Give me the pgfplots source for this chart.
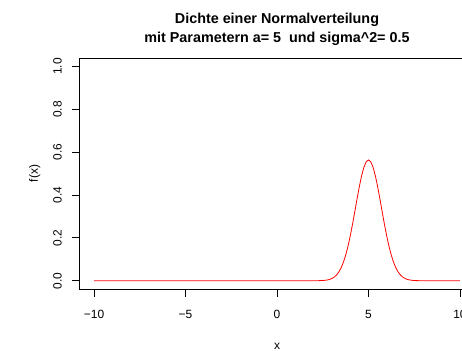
\documentclass[border=0pt]{standalone}
\usepackage{pgfplots}
\pgfplotsset{compat=1.18}
\usepackage{fontspec}
\setmainfont{Liberation Sans}
\begin{document}
\begin{tikzpicture}
\begin{axis}[
  scale only axis,
  width=395.2bp, height=231.3bp,
  xmin=-10.8, xmax=10.8,
  ymin=-0.04, ymax=1.04,
  axis line style={line width=0.8bp, black},
  every tick/.style={line width=0.8bp, black},
  tick align=outside,
  major tick length=7.2bp,
  xtick pos=bottom, ytick pos=left,
  xtick={-10,-5,0,5,10},
  xticklabels={−10,−5,0,5,10},
  ytick={0,0.2,0.4,0.6,0.8,1.0},
  yticklabels={0.0,0.2,0.4,0.6,0.8,1.0},
  xticklabel style={font=\fontsize{12}{14}\selectfont, anchor=north, inner sep=0pt},
  yticklabel style={font=\fontsize{12}{14}\selectfont, rotate=90, anchor=south, inner sep=0pt},
  xticklabel shift=13.5bp,
  yticklabel shift=10.2bp,
  clip=false,
]
\addplot[red, line width=0.8bp] coordinates {
(-10,0) (0,0) (1,0) (2,0.0000697) (2.25,0.000293) (2.375,0.000574) (2.5,0.00109) (2.625,0.00200) (2.75,0.00357) (2.875,0.00617)
(3,0.01033) (3.125,0.01677) (3.25,0.02640) (3.375,0.04024) (3.5,0.05946) (3.625,0.08518) (3.75,0.1182) (3.875,0.1591)
(4,0.2076) (4.125,0.2624) (4.25,0.3215) (4.375,0.3818) (4.5,0.4394) (4.625,0.4902) (4.75,0.5300) (4.875,0.5555)
(5,0.5642)
(5.125,0.5555) (5.25,0.5300) (5.375,0.4902) (5.5,0.4394) (5.625,0.3818) (5.75,0.3215) (5.875,0.2624)
(6,0.2076) (6.125,0.1591) (6.25,0.1182) (6.375,0.08518) (6.5,0.05946) (6.625,0.04024) (6.75,0.02640) (6.875,0.01677)
(7,0.01033) (7.125,0.00617) (7.25,0.00357) (7.375,0.00200) (7.5,0.00109) (7.625,0.000574) (7.75,0.000293) (8,0.0000697)
(9,0) (10,0)
};
\node[font=\bfseries\fontsize{14.4}{17}\selectfont, anchor=base] at (rel axis cs:0.5,1) [yshift=34bp] {Dichte einer Normalverteilung};
\node[font=\bfseries\fontsize{14.4}{17}\selectfont, anchor=base] at (rel axis cs:0.5,1) [yshift=15.3bp] {mit Parametern a= 5\ \ und sigma\textasciicircum 2= 0.5};
\node[font=\fontsize{12}{14}\selectfont, anchor=base] at (rel axis cs:0.5,0) [yshift=-59.7bp] {x};
\node[font=\fontsize{12}{14}\selectfont, anchor=base, rotate=90] at (rel axis cs:-0.1048,0.5) {f(x)};
\end{axis}
\pgfresetboundingbox
\useasboundingbox (-79.4bp,-61.7bp) rectangle (382.6bp,289.3bp);
\end{tikzpicture}
\end{document}
